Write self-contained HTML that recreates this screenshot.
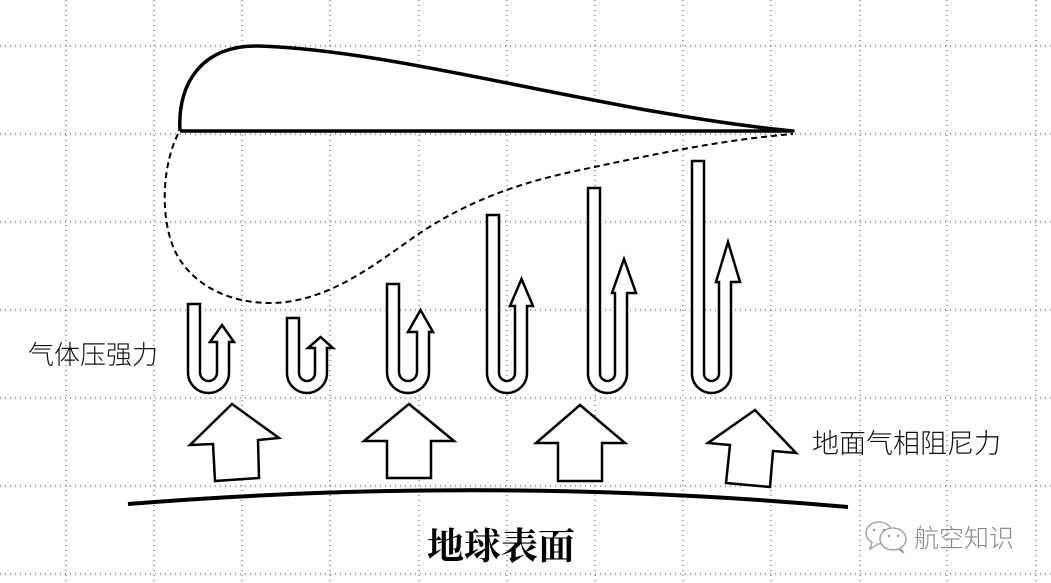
<!DOCTYPE html>
<html><head><meta charset="utf-8"><style>
html,body{margin:0;padding:0;background:#fff;}
svg{display:block;}
</style></head><body>
<svg width="1051" height="583" viewBox="0 0 1051 583" xmlns="http://www.w3.org/2000/svg">
<g stroke="#444" stroke-width="1" stroke-dasharray="1 4" fill="none">
<line x1="66" y1="0" x2="66" y2="583"/><line x1="154" y1="0" x2="154" y2="583"/>
<line x1="242" y1="0" x2="242" y2="583"/><line x1="330" y1="0" x2="330" y2="583"/>
<line x1="419" y1="0" x2="419" y2="583"/><line x1="507" y1="0" x2="507" y2="583"/>
<line x1="595" y1="0" x2="595" y2="583"/><line x1="683" y1="0" x2="683" y2="583"/>
<line x1="771" y1="0" x2="771" y2="583"/><line x1="860" y1="0" x2="860" y2="583"/>
<line x1="947" y1="0" x2="947" y2="583"/><line x1="1036" y1="0" x2="1036" y2="583"/>
<line x1="0" y1="46" x2="1051" y2="46"/><line x1="0" y1="134" x2="1051" y2="134"/>
<line x1="0" y1="222" x2="1051" y2="222"/><line x1="0" y1="310" x2="1051" y2="310"/>
<line x1="0" y1="398" x2="1051" y2="398"/><line x1="0" y1="486" x2="1051" y2="486"/>
<line x1="0" y1="574" x2="1051" y2="574"/>
</g>
<!-- airfoil -->
<path d="M180,131 C177,80 205,45 258,46 C 400,50 600,112 793,131 L180,131" fill="#fff" stroke="#000" stroke-width="3.5" stroke-linejoin="round"/>
<!-- dashed -->
<path d="M178,134 C160,170 160,230 180,260 C 200,290 235,303 270,303 C 330,303 380,260 420,233 C 470,200 520,183 571,172 C 650,155 720,140 793,134" fill="none" stroke="#000" stroke-width="2" stroke-dasharray="6 4"/>
<!-- U tubes -->
<g fill="#fff" stroke="#000" stroke-width="2.5" stroke-linejoin="miter">
<path d="M188,304 H200 V372.5 A8.5,8.5 0 0 0 217,372.5 V342 H210 L222,325 L234,342 H229 V372.5 A20.5,20.5 0 0 1 188,372.5 Z"/>
<path d="M287,318 H299 V373 A8,8 0 0 0 315,373 V348 H308 L320.5,337 L333,348 H327 V373 A20,20 0 0 1 287,373 Z"/>
<path d="M387,284 H399 V372 A9,9 0 0 0 417,372 V332 H408 L420.5,310 L433,332 H429 V372 A21,21 0 0 1 387,372 Z"/>
<path d="M487,215 H499 V373 A8,8 0 0 0 515,373 V306 H510 L521.5,279 L533,306 H527 V373 A20,20 0 0 1 487,373 Z"/>
<path d="M588,188 H600 V373.5 A7.5,7.5 0 0 0 615,373.5 V293 H612 L624,259 L636,293 H627 V373.5 A19.5,19.5 0 0 1 588,373.5 Z"/>
<path d="M692,161 H704 V373.5 A7.5,7.5 0 0 0 719,373.5 V282 H716 L728,242 L740,282 H731 V373.5 A19.5,19.5 0 0 1 692,373.5 Z"/>
</g>
<!-- block arrows -->
<g fill="#fff" stroke="#000" stroke-width="2.5" stroke-linejoin="miter">
<path d="M232,404 L279,438 L258,440 L259,478 L215,481 L213,444 L190,445 Z"/>
<path d="M409,404 L454,441 L431,441 L431,478 L387,478 L387,441 L364,441 Z"/>
<path d="M580,405 L625,443 L602,443 L602,481 L558,481 L558,443 L536,443 Z"/>
<path d="M755,410 L796,453 L773,451 L770,487 L726,483 L730,445 L708,443 Z"/>
</g>
<!-- ground -->
<path d="M128,504 Q 490,475 848,507" fill="none" stroke="#000" stroke-width="4"/>
<!-- text -->
<text x="28" y="364" font-family="'Liberation Sans','Noto Sans CJK SC',sans-serif" font-size="26" font-weight="300" fill="#111">气体压强力</text>
<text x="812" y="453" font-family="'Liberation Sans','Noto Sans CJK SC',sans-serif" font-size="27" font-weight="300" fill="#111">地面气相阻尼力</text>
<text x="427" y="559" font-family="'Liberation Serif','Noto Serif CJK SC',serif" font-size="37" font-weight="bold" fill="#000">地球表面</text>
<!-- watermark -->
<g fill="#fff" stroke="#999" stroke-width="1.3">
<ellipse cx="879" cy="533" rx="13" ry="11"/>
<path d="M872,542 L870,549 L878,544"/>
<ellipse cx="893" cy="539" rx="13" ry="11"/>
<path d="M900,548 L904,553 L898,549"/>
</g>
<g fill="#999"><circle cx="874" cy="530" r="1.2"/><circle cx="884" cy="530" r="1.2"/><circle cx="889" cy="536" r="1.2"/><circle cx="898" cy="536" r="1.2"/></g>
<text x="914" y="547" font-family="'Liberation Sans','Noto Sans CJK SC',sans-serif" font-size="25" font-weight="300" fill="#888">航空知识</text>
</svg>
</body></html>
